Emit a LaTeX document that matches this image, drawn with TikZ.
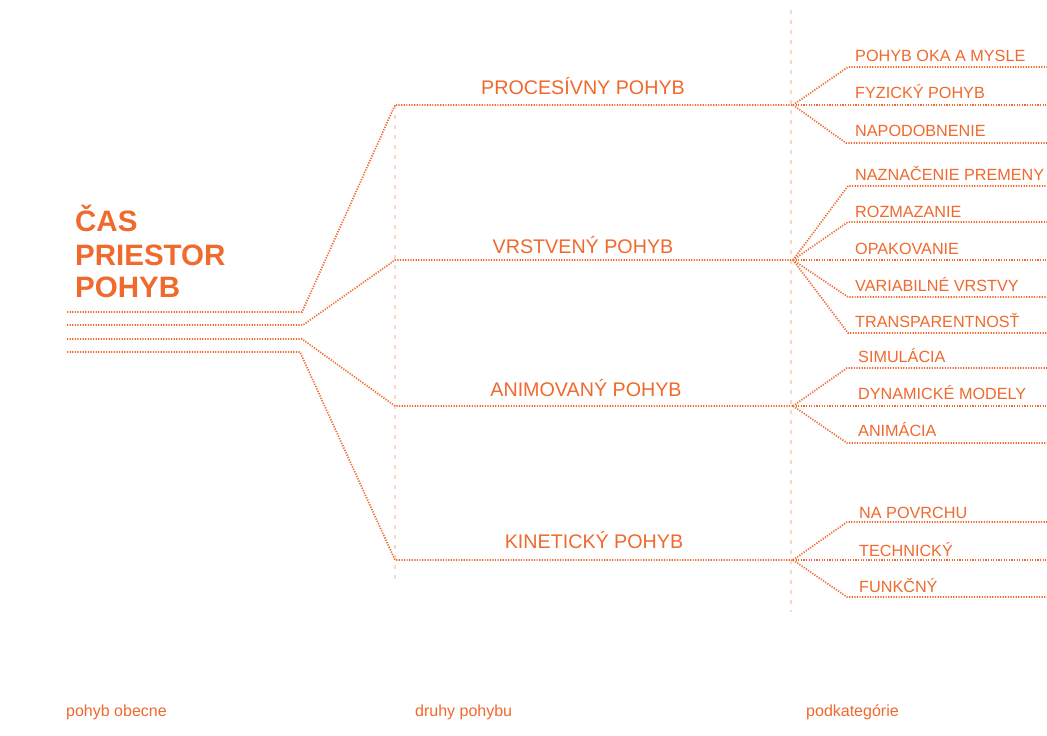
\documentclass[tikz,border=0pt]{standalone}
\usepackage{fontspec}
\setmainfont{Liberation Sans}
\definecolor{orng}{RGB}{240,105,45}
\definecolor{faint}{RGB}{250,215,195}
\begin{document}
\begin{tikzpicture}[x=1pt,y=-1pt,
  dots/.style={draw=orng,line width=1.7pt,dash pattern=on 1.2pt off 1.4pt},
  guide/.style={draw=faint,line width=1.2pt,dash pattern=on 4pt off 6pt},
  midlbl/.style={anchor=base,inner sep=0pt,text=orng,font=\fontsize{19.7}{22}\selectfont},
  sublbl/.style={anchor=base west,inner sep=0pt,text=orng,font=\fontsize{16.2}{18}\selectfont},
  botlbl/.style={anchor=base west,inner sep=0pt,text=orng,font=\fontsize{16}{18}\selectfont},
  titlelbl/.style={anchor=base west,inner sep=0pt,text=orng,font=\bfseries\fontsize{29.5}{33}\selectfont}]
\useasboundingbox[fill=white] (0,0) rectangle (1047,736);

% faint vertical guides
\coordinate (g1t) at (395,105); \coordinate (g1b) at (395,580);
\coordinate (g2t) at (791,10);  \coordinate (g2b) at (791,612);
\draw[guide] (g1t) -- (g1b);
\draw[guide] (g2t) -- (g2b);

% title
\node[titlelbl] (t1) at (75,231) {ČAS};
\node[titlelbl] (t2) at (75,265) {PRIESTOR};
\node[titlelbl] (t3) at (75,297) {POHYB};

% left lines
\coordinate (s1) at (67,312); \coordinate (b1) at (302,312);
\coordinate (s2) at (67,325); \coordinate (b2) at (303,325);
\coordinate (s3) at (67,339); \coordinate (b3) at (302,339);
\coordinate (s4) at (67,352); \coordinate (b4) at (300,352);

% middle junctions
\coordinate (j1) at (395,105); \coordinate (r1) at (793,105);
\coordinate (j2) at (395,260); \coordinate (r2) at (793,260);
\coordinate (j3) at (395,406); \coordinate (r3) at (793,406);
\coordinate (j4) at (395,560); \coordinate (r4) at (793,560);

\draw[dots] (s1) -- (b1) -- (j1) -- (r1);
\draw[dots] (s2) -- (b2) -- (j2) -- (r2);
\draw[dots] (s3) -- (b3) -- (j3) -- (r3);
\draw[dots] (s4) -- (b4) -- (j4) -- (r4);

\node[midlbl] (m1) at (583,94) {PROCESÍVNY POHYB};
\node[midlbl] (m2) at (583,253) {VRSTVENÝ POHYB};
\node[midlbl] (m3) at (586,396) {ANIMOVANÝ POHYB};
\node[midlbl] (m4) at (594,548) {KINETICKÝ POHYB};

% subcategory branches
% group 1
\coordinate (a1) at (848,67);  \coordinate (e1) at (1047,67);
\coordinate (e2) at (1047,105);
\coordinate (a3) at (846,143); \coordinate (e3) at (1047,143);
\draw[dots] (r1) -- (a1) -- (e1);
\draw[dots] (r1) -- (e2);
\draw[dots] (r1) -- (a3) -- (e3);
\node[sublbl] (p1) at (855,61) {POHYB OKA A MYSLE};
\node[sublbl] (p2) at (855,98) {FYZICKÝ POHYB};
\node[sublbl] (p3) at (855,136) {NAPODOBNENIE};

% group 2
\coordinate (c1) at (848,186); \coordinate (f1) at (1047,186);
\coordinate (c2) at (848,222); \coordinate (f2) at (1047,222);
\coordinate (f3) at (1047,260);
\coordinate (c4) at (848,297); \coordinate (f4) at (1047,297);
\coordinate (c5) at (848,333); \coordinate (f5) at (1047,333);
\draw[dots] (r2) -- (c1) -- (f1);
\draw[dots] (r2) -- (c2) -- (f2);
\draw[dots] (r2) -- (f3);
\draw[dots] (r2) -- (c4) -- (f4);
\draw[dots] (r2) -- (c5) -- (f5);
\node[sublbl] (q1) at (855,180) {NAZNAČENIE PREMENY};
\node[sublbl] (q2) at (855,217) {ROZMAZANIE};
\node[sublbl] (q3) at (855,254) {OPAKOVANIE};
\node[sublbl] (q4) at (855,291) {VARIABILNÉ VRSTVY};
\node[sublbl] (q5) at (855,327) {TRANSPARENTNOSŤ};

% group 3
\coordinate (d1) at (847,368); \coordinate (h1) at (1047,368);
\coordinate (h2) at (1047,406);
\coordinate (d3) at (847,443); \coordinate (h3) at (1047,443);
\draw[dots] (r3) -- (d1) -- (h1);
\draw[dots] (r3) -- (h2);
\draw[dots] (r3) -- (d3) -- (h3);
\node[sublbl] (u1) at (858,362) {SIMULÁCIA};
\node[sublbl] (u2) at (858,399) {DYNAMICKÉ MODELY};
\node[sublbl] (u3) at (858,436) {ANIMÁCIA};

% group 4
\coordinate (k1) at (847,522); \coordinate (l1) at (1047,522);
\coordinate (l2) at (1047,560);
\coordinate (k3) at (847,597); \coordinate (l3) at (1047,597);
\draw[dots] (r4) -- (k1) -- (l1);
\draw[dots] (r4) -- (l2);
\draw[dots] (r4) -- (k3) -- (l3);
\node[sublbl] (v1) at (859,518) {NA POVRCHU};
\node[sublbl] (v2) at (859,556) {TECHNICKÝ};
\node[sublbl] (v3) at (859,592) {FUNKČNÝ};

% bottom labels
\node[botlbl] (x1) at (66,716) {pohyb obecne};
\node[botlbl] (x2) at (415,716) {druhy pohybu};
\node[botlbl] (x3) at (806,716) {podkategórie};
\end{tikzpicture}
\end{document}
